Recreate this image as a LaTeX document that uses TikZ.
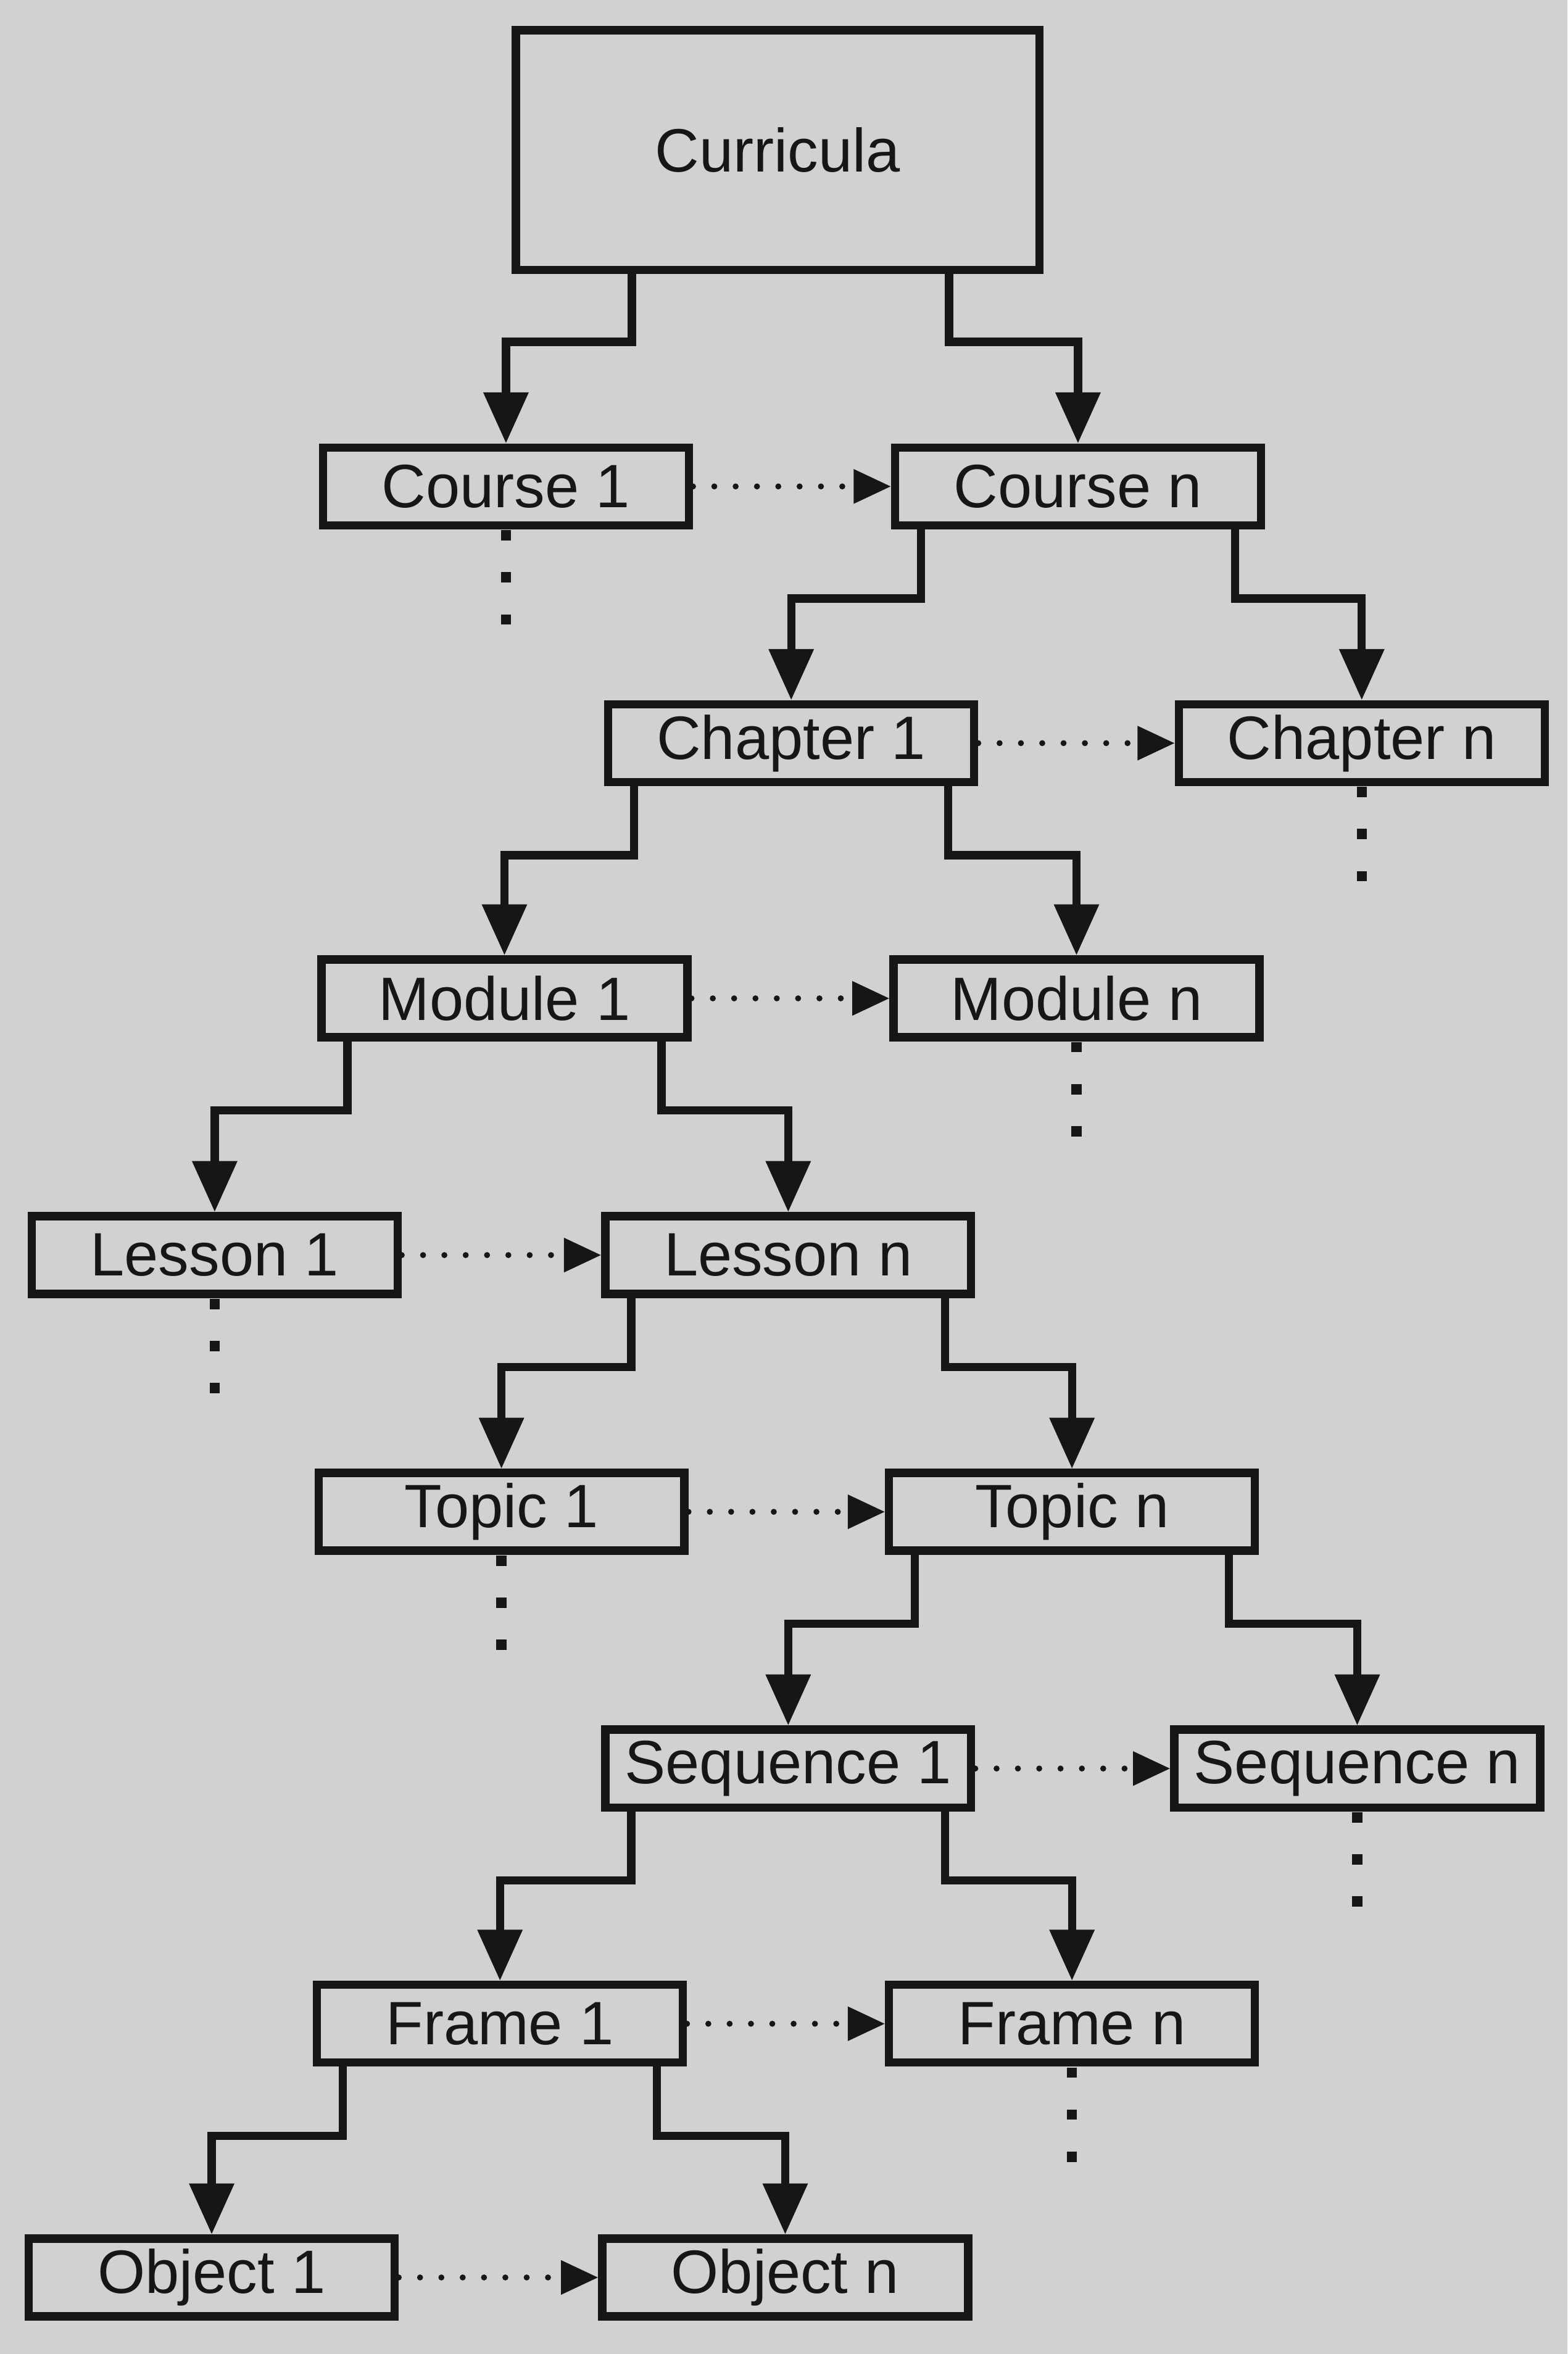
\documentclass[tikz,border=0pt]{standalone}
\usepackage{fontspec}
\setmainfont{Liberation Sans}
\usetikzlibrary{arrows.meta,calc}

\definecolor{paper}{RGB}{209,209,209}
\definecolor{ink}{RGB}{22,22,22}

\begin{document}
\begin{tikzpicture}[x=0.025cm,y=-0.025cm,
  box/.style={draw=ink, line width=3.9pt, minimum width=6.09cm, minimum height=1.295cm,
              inner sep=0pt, font=\fontsize{29}{32}\selectfont, text=ink},
  link/.style={draw=ink, line width=3.9pt, line join=miter,
               -{Triangle[length=0.85cm,width=0.72cm]}},
  next/.style={draw=ink, line width=0.1cm, line cap=round, dash pattern=on 0pt off 0.355cm,
               -{Triangle[length=0.62cm,width=0.55cm]}},
  more/.style={draw=ink, line width=0.17cm, line cap=butt, dash pattern=on 0.17cm off 0.53cm}]

% page background and fixed frame
\useasboundingbox[fill=paper] (0,0) rectangle (1044,1568);

% boxes
\node[box, minimum width=8.72cm, minimum height=3.995cm] (cur) at (518,100) {Curricula};
\node[box] (co1) at (337,324) {Course 1};
\node[box] (con) at (718,324) {Course n};
\node[box] (ch1) at (527,495) {Chapter 1};
\node[box] (chn) at (907,495) {Chapter n};
\node[box] (mo1) at (336,665) {Module 1};
\node[box] (mon) at (717,665) {Module n};
\node[box] (le1) at (143,836) {Lesson 1};
\node[box] (len) at (525,836) {Lesson n};
\node[box] (to1) at (334,1007) {Topic 1};
\node[box] (ton) at (714,1007) {Topic n};
\node[box] (se1) at (525,1178) {Sequence 1};
\node[box] (sen) at (904,1178) {Sequence n};
\node[box] (fr1) at (333,1348) {Frame 1};
\node[box] (frn) at (714,1348) {Frame n};
\node[box] (ob1) at (141,1517) {Object 1};
\node[box] (obn) at (523,1517) {Object n};

% elbow connectors from each parent to its first and last child
\draw[link] ($(cur.south west)+(80,0)$) -- ++(0,45) -| (co1.north);
\draw[link] ($(cur.south east)+(-63,0)$) -- ++(0,45) -| (con.north);

\draw[link] ($(con.south west)+(20,0)$) -- ++(0,46) -| (ch1.north);
\draw[link] ($(con.south east)+(-20,0)$) -- ++(0,46) -| (chn.north);

\draw[link] ($(ch1.south west)+(20,0)$) -- ++(0,46) -| (mo1.north);
\draw[link] ($(ch1.south east)+(-20,0)$) -- ++(0,46) -| (mon.north);

\draw[link] ($(mo1.south west)+(20,0)$) -- ++(0,46) -| (le1.north);
\draw[link] ($(mo1.south east)+(-20,0)$) -- ++(0,46) -| (len.north);

\draw[link] ($(len.south west)+(20,0)$) -- ++(0,46) -| (to1.north);
\draw[link] ($(len.south east)+(-20,0)$) -- ++(0,46) -| (ton.north);

\draw[link] ($(ton.south west)+(20,0)$) -- ++(0,46) -| (se1.north);
\draw[link] ($(ton.south east)+(-20,0)$) -- ++(0,46) -| (sen.north);

\draw[link] ($(se1.south west)+(20,0)$) -- ++(0,46) -| (fr1.north);
\draw[link] ($(se1.south east)+(-20,0)$) -- ++(0,46) -| (frn.north);

\draw[link] ($(fr1.south west)+(20,0)$) -- ++(0,46) -| (ob1.north);
\draw[link] ($(fr1.south east)+(-20,0)$) -- ++(0,46) -| (obn.north);

% dotted "1 ... n" arrows
\draw[next] (co1.east) -- (con.west);
\draw[next] (ch1.east) -- (chn.west);
\draw[next] (mo1.east) -- (mon.west);
\draw[next] (le1.east) -- (len.west);
\draw[next] (to1.east) -- (ton.west);
\draw[next] (se1.east) -- (sen.west);
\draw[next] (fr1.east) -- (frn.west);
\draw[next] (ob1.east) -- (obn.west);

% vertical ellipses below the leaves that are not expanded
\foreach \leaf in {co1,chn,mon,le1,to1,sen,frn}
  \draw[more] ($(\leaf.south)+(0,0.5)$) -- ++(0,63);
\end{tikzpicture}
\end{document}
